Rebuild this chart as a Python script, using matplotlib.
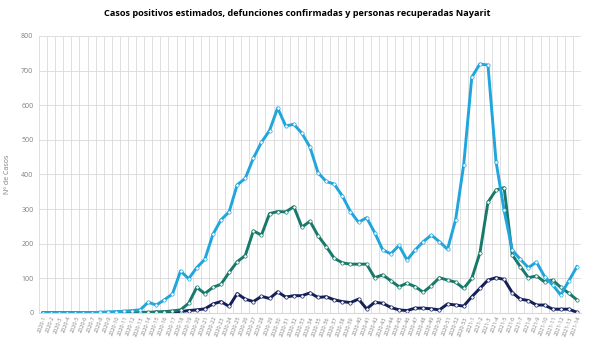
import matplotlib.pyplot as plt
import numpy as np

# week labels
weeks = [f"2020-{w}" for w in range(1, 54)] + [f"2021-{w}" for w in range(1, 15)]

casos = [0, 0, 0, 0, 0, 1, 1, 2, 3, 4, 5, 7, 9,
         31, 23, 38, 55, 121, 99, 131, 155, 227, 269, 292, 370, 389, 447, 493, 527, 592,
         540, 545, 519, 479, 405, 380, 372, 338, 293, 262, 275, 232, 182, 171, 195, 153, 182, 206, 225, 206,
         184, 269, 428, 681, 719, 716, 437, 296, 182, 155, 131, 147, 105, 81, 52, 93, 134]
recuperadas = [0, 0, 0, 0, 0, 0, 0, 0, 0, 0, 1, 1, 2, 2, 3, 4, 6,
               9, 28, 74, 56, 74, 83, 117, 148, 166, 237, 225, 287, 293,
               292, 307, 248, 265, 223, 192, 158, 145, 141, 141, 141, 102, 110, 93, 76, 86, 76, 60, 79, 102,
               95, 89, 71, 100, 173, 320, 355, 362, 168, 134, 102, 107, 90, 95, 74, 57, 38]
defunciones = [0, 0, 0, 0, 0, 0, 0, 0, 0, 0, 0, 1, 1, 1, 2, 2, 3,
               4, 7, 9, 12, 26, 33, 19, 56, 40, 33, 48, 42, 61,
               46, 50, 50, 58, 45, 47, 38, 33, 30, 40, 12, 31, 28, 16, 9, 7, 14, 14, 12, 9,
               26, 23, 20, 47, 71, 95, 102, 97, 59, 40, 36, 23, 23, 11, 11, 11, 2]

plt.rcParams["font.family"] = ["Open Sans", "DejaVu Sans"]

fig = plt.figure(figsize=(5.89, 3.48), dpi=100)
ax = fig.add_axes([0.0662, 0.1006, 0.9202, 0.796])

x = np.arange(len(weeks))
series = [
    (defunciones, "#13205A"),
    (recuperadas, "#17796B"),
    (casos, "#20A6DC"),
]
for vals, col in series:
    ax.plot(x, vals, color=col, linewidth=2.1, marker="o", markersize=2.4,
            markerfacecolor="white", markeredgecolor=col, markeredgewidth=0.5,
            solid_joinstyle="round")

ax.set_xlim(-0.5, len(weeks) - 0.5)
ax.set_ylim(0, 800)
ax.set_yticks(range(0, 801, 100))
ax.set_xticks(x)
ax.set_xticklabels(weeks, rotation=70, ha="right", rotation_mode="anchor",
                   fontsize=4, color="#7F7F7F")
ax.tick_params(axis="y", labelsize=5, colors="#7F7F7F", length=0, pad=4)
ax.tick_params(axis="x", length=0, pad=2)

# vertical grid between categories, horizontal grid per 100
ax.set_xticks(np.arange(-0.5, len(weeks), 1), minor=True)
ax.grid(which="minor", axis="x", color="#D9D9D9", linewidth=0.6)
ax.grid(which="major", axis="y", color="#D9D9D9", linewidth=0.6)
ax.tick_params(which="minor", length=0)
ax.set_axisbelow(True)
for s in ["top", "right", "left"]:
    ax.spines[s].set_visible(False)
ax.spines["bottom"].set_color("#D9D9D9")
ax.spines["bottom"].set_linewidth(0.8)

ax.set_ylabel("Nº de Casos", fontsize=5, color="#7F7F7F", labelpad=7)
fig.suptitle("Casos positivos estimados, defunciones confirmadas y personas recuperadas Nayarit",
             fontsize=6.6, fontweight="bold", y=0.975, x=0.505)

fig.savefig("out.png", dpi=100)
